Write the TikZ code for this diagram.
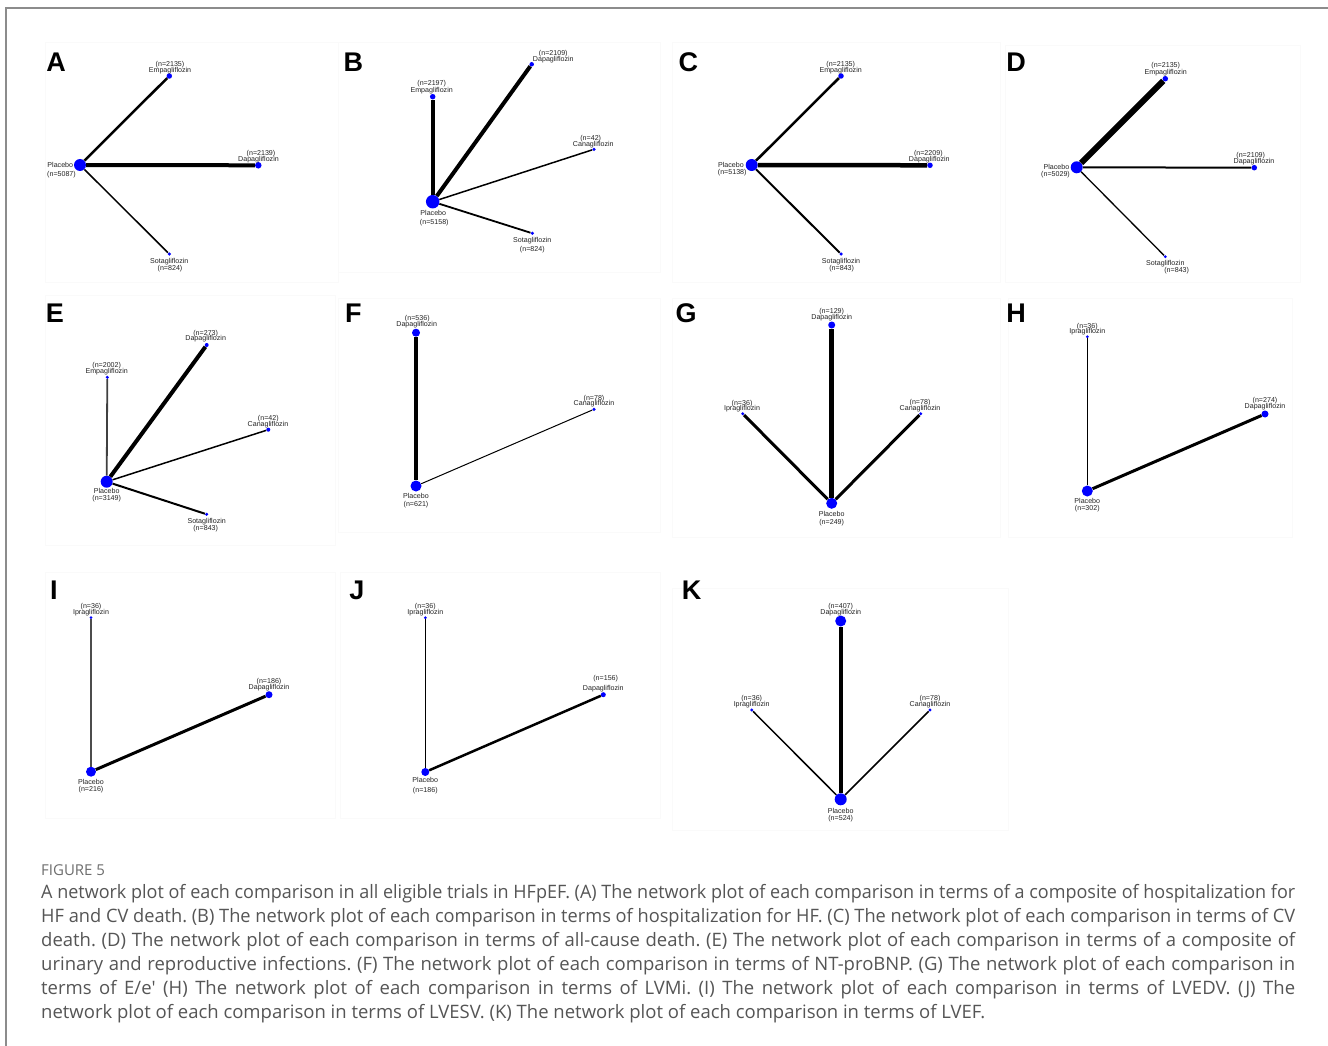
\documentclass[tikz,border=0pt]{standalone}
\usepackage{fontspec}
\usepackage{graphicx}
\setmainfont{Liberation Sans}
\newfontfamily\capfont{Open Sans}
\definecolor{netblue}{RGB}{0,0,255}
\definecolor{labgray}{RGB}{35,35,35}
\definecolor{capgray}{RGB}{85,85,85}
\definecolor{figgray}{RGB}{110,110,110}
\definecolor{framegray}{RGB}{140,140,140}
\definecolor{boxgray}{RGB}{250,250,250}
\newcommand\dotnode[4]{\node[dot,minimum size=#4pt] (#1) at (#2,#3) {};}
\newcommand\lbl[4]{\node[lab] (#1) at (#2,#3) {#4};}
\newsavebox\jlinebox
\newcommand\jline[1]{%
  \sbox\jlinebox{#1}%
  \ifdim\wd\jlinebox>1254pt
    \pgfmathsetmacro\jlineratio{1254/\wd\jlinebox}%
    \scalebox{\jlineratio}[1]{\usebox\jlinebox}%
  \else
    \hbox to 1254pt{#1}%
  \fi}
\begin{document}
\frenchspacing
\begin{tikzpicture}[x=1pt,y=-1pt,
  dot/.style={circle,fill=netblue,draw=none,inner sep=0pt},
  lab/.style={font=\fontsize{7.1}{7}\selectfont,text=labgray,inner sep=0pt,text height=5.1pt,text depth=1.5pt},
  letter/.style={font=\fontsize{27}{27}\selectfont\bfseries,inner sep=0pt,text height=19.4pt,text depth=0pt},
  capline/.style={font=\capfont\fontsize{18.5}{24}\selectfont\frenchspacing,text=capgray,inner sep=0pt,anchor=base west},
  panelbox/.style={draw=boxgray,line width=0.8pt},
]
\useasboundingbox (0,0) rectangle (1328,1046);
\fill[white] (0,0) rectangle (1328,1046);
% frame
\draw[framegray,line width=1.3pt] (6,1046) -- (6,8) -- (1328,8);
% faint panel boxes
\draw[panelbox] (45,42) rectangle (338,282);
\draw[panelbox] (338,42) rectangle (660,272);
\draw[panelbox] (672,42) rectangle (1000,282);
\draw[panelbox] (1005,45) rectangle (1300,282);
\draw[panelbox] (45,295) rectangle (335,545);
\draw[panelbox] (338,298) rectangle (660,532);
\draw[panelbox] (672,298) rectangle (1000,537);
\draw[panelbox] (1008,298) rectangle (1292,537);
\draw[panelbox] (45,572) rectangle (335,818);
\draw[panelbox] (340,572) rectangle (660,818);
\draw[panelbox] (672,588) rectangle (1008,830);

% ---------------- Panel A
\node[letter] (LA) at (56,61.5) {A};
\dotnode{A0}{80}{165}{12}
\dotnode{A1}{169.3}{76}{5.5}
\dotnode{A2}{258.3}{165.3}{6.5}
\dotnode{A3}{169.3}{254}{3.5}
\draw[line width=2.5pt] (A0) -- (A1);
\draw[line width=4pt] (A0) -- (A2);
\draw[line width=1.5pt] (A0) -- (A3);
\lbl{A0a}{60.3}{166}{Placebo}
\lbl{A0b}{61.5}{174.5}{(n=5087)}
\lbl{A1a}{170}{65}{(n=2135)}
\lbl{A1b}{170}{70.7}{Empagliflozin}
\lbl{A2a}{261}{153.5}{(n=2139)}
\lbl{A2b}{258.5}{159.3}{Dapagliflozin}
\lbl{A3a}{169.3}{261.5}{Sotagliflozin}
\lbl{A3b}{170}{268.5}{(n=824)}

% ---------------- Panel B
\node[letter] (LB) at (353.3,61.5) {B};
\dotnode{B0}{432.7}{201.7}{13.5}
\dotnode{B1}{432.7}{96.7}{5.5}
\dotnode{B2}{531.7}{64.3}{4.5}
\dotnode{B3}{594}{149.3}{3.5}
\dotnode{B4}{532.3}{233.3}{3.5}
\draw[line width=4pt] (B0) -- (B1);
\draw[line width=4pt] (B0) -- (B2);
\draw[line width=1.5pt] (B0) -- (B3);
\draw[line width=1.8pt] (B0) -- (B4);
\lbl{B0a}{433.3}{213.3}{Placebo}
\lbl{B0b}{434.3}{222.7}{(n=5158)}
\lbl{B1a}{431.7}{83.3}{(n=2197)}
\lbl{B1b}{431.7}{90.7}{Empagliflozin}
\lbl{B2a}{553.3}{54}{(n=2109)}
\lbl{B2b}{553.3}{59.6}{Dapagliflozin}
\lbl{B3a}{590.7}{138.9}{(n=42)}
\lbl{B3b}{593.3}{144.5}{Canagliflozin}
\lbl{B4a}{532.3}{241}{Sotagliflozin}
\lbl{B4b}{532.3}{249.3}{(n=824)}

% ---------------- Panel C
\node[letter] (LC) at (688.3,61.5) {C};
\dotnode{C0}{751.7}{165}{12}
\dotnode{C1}{841}{76}{5.5}
\dotnode{C2}{930}{165.3}{5.5}
\dotnode{C3}{841}{254}{3.5}
\draw[line width=2.5pt] (C0) -- (C1);
\draw[line width=4.5pt] (C0) -- (C2);
\draw[line width=2pt] (C0) -- (C3);
\lbl{C0a}{731}{166}{Placebo}
\lbl{C0b}{732.2}{173}{(n=5138)}
\lbl{C1a}{840.7}{64.5}{(n=2135)}
\lbl{C1b}{840.7}{70.5}{Empagliflozin}
\lbl{C2a}{928.3}{153.5}{(n=2209)}
\lbl{C2b}{929.3}{159.5}{Dapagliflozin}
\lbl{C3a}{841}{261.3}{Sotagliflozin}
\lbl{C3b}{841.7}{268.3}{(n=843)}

% ---------------- Panel D
\node[letter] (LD) at (1016,61.5) {D};
\dotnode{D0}{1076.7}{167.3}{12}
\dotnode{D1}{1165.3}{78.7}{5.5}
\dotnode{D2}{1254.3}{167.7}{5.5}
\dotnode{D3}{1165.3}{256.7}{3.2}
\draw[line width=6pt] (D0) -- (D1);
\draw[line width=2pt] (D0) -- (D2);
\draw[line width=1.3pt] (D0) -- (D3);
\lbl{D0a}{1056.5}{167.3}{Placebo}
\lbl{D0b}{1055.5}{175}{(n=5029)}
\lbl{D1a}{1165.7}{66}{(n=2135)}
\lbl{D1b}{1165.7}{72.3}{Empagliflozin}
\lbl{D2a}{1250.7}{156}{(n=2109)}
\lbl{D2b}{1254}{161.7}{Dapagliflozin}
\lbl{D3a}{1165.3}{264}{Sotagliflozin}
\lbl{D3b}{1176.7}{270.7}{(n=843)}

% ---------------- Panel E
\node[letter] (LE) at (55,312.5) {E};
\dotnode{E0}{106.7}{481.7}{12}
\dotnode{E1}{107.3}{377.3}{3.3}
\dotnode{E2}{206.7}{345}{4}
\dotnode{E3}{268.3}{429.7}{4}
\dotnode{E4}{206.7}{514.3}{3.3}
\draw[line width=1.8pt,black!75] (E0) -- (E1);
\draw[line width=4pt] (E0) -- (E2);
\draw[line width=1.5pt] (E0) -- (E3);
\draw[line width=2pt] (E0) -- (E4);
\lbl{E0a}{106.7}{491.7}{Placebo}
\lbl{E0b}{106.7}{499}{(n=3149)}
\lbl{E1a}{106.7}{366}{(n=2002)}
\lbl{E1b}{106.7}{371.7}{Empagliflozin}
\lbl{E2a}{205.7}{333.3}{(n=273)}
\lbl{E2b}{205.7}{339}{Dapagliflozin}
\lbl{E3a}{268.3}{419}{(n=42)}
\lbl{E3b}{268}{424.3}{Canagliflozin}
\lbl{E4a}{206.7}{521.7}{Sotagliflozin}
\lbl{E4b}{205.7}{529}{(n=843)}

% ---------------- Panel F
\node[letter] (LF) at (353.3,312.5) {F};
\dotnode{F0}{416}{486}{11}
\dotnode{F1}{416}{332.7}{8}
\dotnode{F2}{594}{409.3}{3.5}
\draw[line width=3.5pt] (F0) -- (F1);
\draw[line width=1pt] (F0) -- (F2);
\lbl{F0a}{416}{496.7}{Placebo}
\lbl{F0b}{416}{505}{(n=621)}
\lbl{F1a}{417.3}{318.5}{(n=536)}
\lbl{F1b}{416.7}{325}{Dapagliflozin}
\lbl{F2a}{594}{398.5}{(n=78)}
\lbl{F2b}{594}{404}{Canagliflozin}

% ---------------- Panel G
\node[letter] (LG) at (686,312.5) {G};
\dotnode{G0}{831.7}{503.3}{11}
\dotnode{G1}{831.7}{325}{7}
\dotnode{G2}{742.7}{413.7}{3.3}
\dotnode{G3}{920.7}{413.7}{3.3}
\draw[line width=4.5pt] (G0) -- (G1);
\draw[line width=3pt] (G0) -- (G2);
\draw[line width=3pt] (G0) -- (G3);
\lbl{G0a}{831.7}{514.3}{Placebo}
\lbl{G0b}{831.7}{522.7}{(n=249)}
\lbl{G1a}{831.7}{311.7}{(n=129)}
\lbl{G1b}{831.7}{317.7}{Dapagliflozin}
\lbl{G2a}{742}{403.3}{(n=36)}
\lbl{G2b}{742}{409}{Ipragliflozin}
\lbl{G3a}{920}{402.7}{(n=78)}
\lbl{G3b}{920}{409}{Canagliflozin}

% ---------------- Panel H
\node[letter] (LH) at (1016,312.5) {H};
\dotnode{H0}{1087.3}{491}{11}
\dotnode{H1}{1087.3}{336.7}{3}
\dotnode{H2}{1265}{414}{7}
\draw[line width=1.5pt] (H0) -- (H1);
\draw[line width=3pt] (H0) -- (H2);
\lbl{H0a}{1087.3}{501.7}{Placebo}
\lbl{H0b}{1087.3}{508.5}{(n=302)}
\lbl{H1a}{1087.3}{326.7}{(n=36)}
\lbl{H1b}{1087.3}{332}{Ipragliflozin}
\lbl{H2a}{1265}{401}{(n=274)}
\lbl{H2b}{1265}{406.7}{Dapagliflozin}

% ---------------- Panel I
\node[letter] (LI) at (54,589.5) {I};
\dotnode{I0}{91}{771.7}{10}
\dotnode{I1}{91}{617.7}{3}
\dotnode{I2}{269}{694.7}{7}
\draw[line width=1.2pt,black!70] (I0) -- (I1);
\draw[line width=3pt] (I0) -- (I2);
\lbl{I0a}{91}{782.3}{Placebo}
\lbl{I0b}{91}{790}{(n=216)}
\lbl{I1a}{91}{606.7}{(n=36)}
\lbl{I1b}{91}{612.7}{Ipragliflozin}
\lbl{I2a}{269}{681.7}{(n=186)}
\lbl{I2b}{269}{687.7}{Dapagliflozin}

% ---------------- Panel J
\node[letter] (LJ) at (357,589.5) {J};
\dotnode{J0}{425.3}{772}{8}
\dotnode{J1}{425.3}{617.7}{3}
\dotnode{J2}{603.3}{694.7}{5}
\draw[line width=1.5pt] (J0) -- (J1);
\draw[line width=2.5pt] (J0) -- (J2);
\lbl{J0a}{425.3}{781}{Placebo}
\lbl{J0b}{425.3}{790.7}{(n=186)}
\lbl{J1a}{425.3}{606.7}{(n=36)}
\lbl{J1b}{425.3}{612.7}{Ipragliflozin}
\lbl{J2a}{605.7}{678.3}{(n=156)}
\lbl{J2b}{603.3}{688.7}{Dapagliflozin}

% ---------------- Panel K
\node[letter] (LK) at (691.5,589.5) {K};
\dotnode{K0}{840.7}{799.3}{12}
\dotnode{K1}{840.7}{621}{11}
\dotnode{K2}{751.7}{710}{3.3}
\dotnode{K3}{930}{710}{3.3}
\draw[line width=4pt] (K0) -- (K1);
\draw[line width=1.5pt] (K0) -- (K2);
\draw[line width=1.5pt] (K0) -- (K3);
\lbl{K0a}{840.7}{811.7}{Placebo}
\lbl{K0b}{840.7}{818.3}{(n=524)}
\lbl{K1a}{840.7}{606.7}{(n=407)}
\lbl{K1b}{840.7}{612.7}{Dapagliflozin}
\lbl{K2a}{751.7}{698.3}{(n=36)}
\lbl{K2b}{751.7}{705}{Ipragliflozin}
\lbl{K3a}{930}{698.3}{(n=78)}
\lbl{K3b}{930}{705}{Canagliflozin}

% ---------------- Caption
\node[font=\capfont\fontsize{15}{15}\selectfont,text=figgray,inner sep=0pt,anchor=base west] (fig) at (41,875) {FIGURE 5};
\node[capline] (c1) at (41,898.5) {\jline{A network plot of each comparison in all eligible trials in HFpEF. (A) The network plot of each comparison in terms of a composite of hospitalization for}};
\node[capline] (c2) at (41,922.5) {\jline{HF and CV death. (B) The network plot of each comparison in terms of hospitalization for HF. (C) The network plot of each comparison in terms of CV}};
\node[capline] (c3) at (41,946.5) {\jline{death. (D) The network plot of each comparison in terms of all-cause death. (E) The network plot of each comparison in terms of a composite of}};
\node[capline] (c4) at (41,970.5) {\jline{urinary and reproductive infections. (F) The network plot of each comparison in terms of NT-proBNP. (G) The network plot of each comparison in}};
\node[capline] (c5) at (41,994.5) {\jline{terms of E/e' (H) The network plot of each comparison in terms of LVMi. (I) The network plot of each comparison in terms of LVEDV. (J) The}};
\node[capline] (c6) at (41,1018.5) {network plot of each comparison in terms of LVESV. (K) The network plot of each comparison in terms of LVEF.};
\end{tikzpicture}
\end{document}
